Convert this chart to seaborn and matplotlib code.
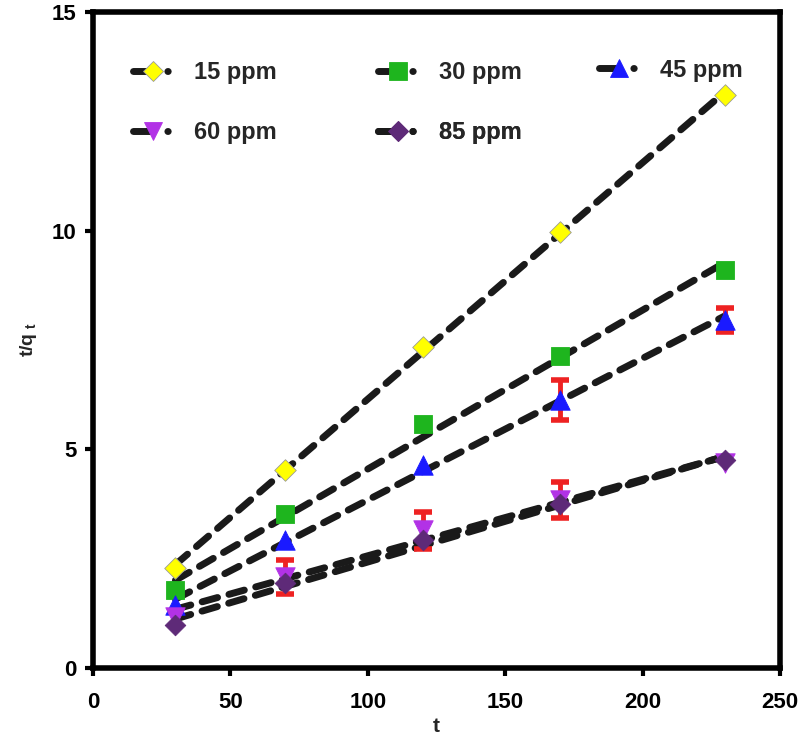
import numpy as np
import pandas as pd
import matplotlib
matplotlib.use("Agg")
import matplotlib.pyplot as plt
import seaborn as sns
from matplotlib.lines import Line2D
from matplotlib.legend_handler import HandlerLine2D

sns.set_style("white")
plt.rcParams['font.family'] = ['Liberation Sans', 'DejaVu Sans']
plt.rcParams['font.weight'] = 'bold'
plt.rcParams['mathtext.fontset'] = 'custom'
plt.rcParams['mathtext.bf'] = 'Liberation Sans:bold'
plt.rcParams['mathtext.rm'] = 'Liberation Sans:bold'
plt.rcParams['mathtext.it'] = 'Liberation Sans:bold'

t_values = [30, 70, 120, 170, 230]
labels = ["15 ppm", "30 ppm", "45 ppm", "60 ppm", "85 ppm"]
y_15 = [2.29, 4.53, 7.34, 9.97, 13.10]
y_30 = [1.78, 3.52, 5.58, 7.13, 9.10]
y_45 = [1.44, 2.93, 4.64, 6.13, 7.96]
y_60 = [1.17, 2.08, 3.15, 3.84, 4.69]
y_85 = [0.98, 1.94, 2.93, 3.75, 4.75]
err_45 = [0, 0, 0, 0.45, 0.27]
err_60 = [0, 0.38, 0.42, 0.41, 0]
err_85 = [0, 0, 0, 0, 0]

series = [y_15, y_30, y_45, y_60, y_85]
errors = [None, None, err_45, err_60, err_85]
colors = ["#FFFF00", "#1EB51E", "#1A1AFF", "#B232E6", "#5E2A78"]
markers = ["D", "s", "^", "v", "D"]
msizes = [11, 13, 14, 14, 10.5]

fig = plt.figure(figsize=(8.07, 7.42), dpi=100)
ax = fig.add_axes([0.1152, 0.0997, 0.8513, 0.8841])

# fitted dashed lines
for y in series:
    df = pd.DataFrame({"t": t_values, "v": y})
    sns.regplot(data=df, x="t", y="v", ax=ax, scatter=False, ci=None,
                truncate=True,
                line_kws=dict(color="#1a1a1a", lw=5, ls=(0, (2.3, 1.7)),
                              solid_capstyle="round", dash_capstyle="round", zorder=2))

# error bars
for y, e in zip(series, errors):
    if e is None:
        continue
    e = np.array(e, dtype=float)
    mask = e > 0
    if mask.any():
        ax.errorbar(np.array(t_values)[mask], np.array(y)[mask], yerr=e[mask],
                    fmt="none", ecolor="#EE2222", elinewidth=3.5, capsize=6.5,
                    capthick=4, zorder=3)

# markers
for y, c, m, s, lab in zip(series, colors, markers, msizes, labels):
    df = pd.DataFrame({"t": t_values, "v": y})
    sns.scatterplot(data=df, x="t", y="v", ax=ax, marker=m, color=c,
                    s=s**2, edgecolor="#999999" if c == "#FFFF00" else c,
                    linewidth=0.6, zorder=4, legend=False)

ax.set_xlim(0, 250)
ax.set_ylim(0, 15)
ax.set_xticks([0, 50, 100, 150, 200, 250])
ax.set_yticks([0, 5, 10, 15])
ax.tick_params(axis="both", which="major", direction="out", length=6, width=3,
               labelsize=16, colors="black", bottom=True, left=True)
ax.tick_params(axis="x", pad=11)
ax.tick_params(axis="y", pad=6)
for lbl in ax.get_xticklabels() + ax.get_yticklabels():
    lbl.set_fontweight("bold")
for sp in ax.spines.values():
    sp.set_linewidth(4)
    sp.set_color("black")

ax.set_xlabel("t", fontsize=15, fontweight="bold", labelpad=3)
ax.set_ylabel(r"$\mathbf{t/q_{\ t}}$", fontsize=14, labelpad=9)


class OffsetMarkerHandler(HandlerLine2D):
    def create_artists(self, legend, orig_handle, xdescent, ydescent,
                       width, height, fontsize, trans):
        x0 = -xdescent
        y = (height - ydescent) / 2.0
        xs = [x0, x0 + 0.52 * width, x0 + width]
        line = Line2D(xs, [y] * 3, markevery=[1])
        self.update_prop(line, orig_handle, legend)
        line.set_transform(trans)
        return [line]


legend_pos = [(133, 73), (378, 73), (599, 70), (133, 133), (378, 133)]
for lab, c, m, s, (px, py) in zip(labels, colors, markers, msizes, legend_pos):
    h = Line2D([0], [0], color="#1a1a1a", lw=5, ls=(0, (2.45, 2.5, 0.05, 10)),
               dash_capstyle="round", solid_capstyle="round",
               marker=m, markersize=s * 0.95, markerfacecolor=c,
               markeredgecolor="#999999" if c == "#FFFF00" else c,
               markeredgewidth=0.6)
    leg = ax.legend([h], [lab], loc="center left",
                    bbox_to_anchor=(px / 807, 1 - py / 742),
                    bbox_transform=fig.transFigure, frameon=False,
                    borderpad=0, borderaxespad=0, handlelength=1.6,
                    handletextpad=1.0,
                    handler_map={Line2D: OffsetMarkerHandler()},
                    prop=dict(size=17, weight="bold"))
    ax.add_artist(leg)

fig.savefig("out.png", dpi=100, facecolor="white")
